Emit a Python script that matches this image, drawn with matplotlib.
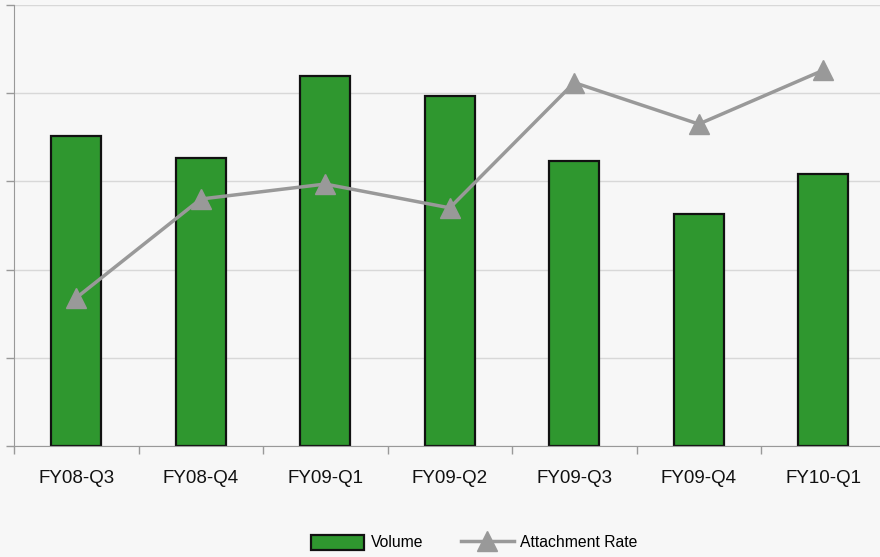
import numpy as np
import matplotlib.pyplot as plt

plt.rcParams['font.family'] = ['Liberation Sans', 'DejaVu Sans']

quarters = ['FY08-Q3', 'FY08-Q4', 'FY09-Q1', 'FY09-Q2', 'FY09-Q3', 'FY09-Q4', 'FY10-Q1']
volume = [3.51, 3.27, 4.20, 3.97, 3.23, 2.63, 3.08]
attach_rate = [1.68, 2.80, 2.97, 2.70, 4.12, 3.65, 4.26]

bg = '#f7f7f7'
fig = plt.figure(figsize=(8.8, 5.57), dpi=100, facecolor=bg)
ax = fig.add_axes([14 / 880, 111 / 557, 871.5 / 880, 441 / 557], facecolor=bg)

x = np.arange(len(quarters))
bars = ax.bar(x, volume, width=0.4, color='#2f972f', edgecolor='#111111',
              linewidth=1.6, label='Volume', zorder=2)
line, = ax.plot(x, attach_rate, color='#999999', linewidth=2.5, marker='^',
                markersize=14, label='Attachment Rate', zorder=3)

ax.set_xlim(-0.5, len(quarters) - 0.5)
ax.set_ylim(0, 5)
ax.set_yticks(np.arange(0, 6))
ax.set_yticklabels([])
ax.grid(axis='y', color='#d8d8d8', linewidth=1, zorder=0)

# labels sit under the bars, ticks mark the category borders
ax.set_xticks(x)
ax.set_xticklabels(quarters, fontsize=13.5, color='#111111')
ax.set_xticks(np.arange(-0.5, len(quarters)), minor=True)
ax.tick_params(axis='x', which='major', length=0, pad=17)
ax.tick_params(axis='x', which='minor', length=6, color='#999999', width=1)
ax.tick_params(axis='y', length=6, color='#999999', width=1)

for side in ['top', 'right']:
    ax.spines[side].set_visible(False)
ax.spines['left'].set_color('#999999')
ax.spines['bottom'].set_color('#999999')

fig.legend([bars, line], ['Volume', 'Attachment Rate'], loc='center',
           bbox_to_anchor=(0.539, 0.026), ncol=2, frameon=False,
           fontsize=11.3, handlelength=3.4, handleheight=1.1, columnspacing=2.4,
           handletextpad=0.4)

fig.savefig('out.png', dpi=100, facecolor=bg)
